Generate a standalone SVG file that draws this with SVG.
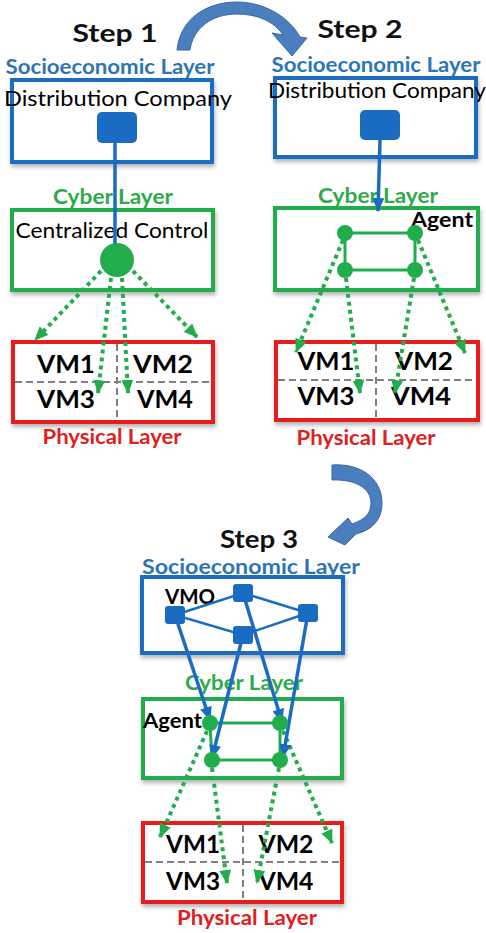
<svg xmlns="http://www.w3.org/2000/svg" width="486" height="933" viewBox="0 0 486 933">
<defs>
<filter id="sh" x="-10%" y="-10%" width="130%" height="140%"><feDropShadow dx="1" dy="3" stdDeviation="2" flood-color="#000" flood-opacity="0.3"/></filter>
<marker id="ga" markerUnits="userSpaceOnUse" markerWidth="14" markerHeight="12" refX="13" refY="6" orient="auto"><path d="M0,0 L14,6 L0,12 z" fill="#22ad4c"/></marker>
<marker id="ba" markerUnits="userSpaceOnUse" markerWidth="14" markerHeight="12" refX="13" refY="6" orient="auto"><path d="M0,0 L14,6 L0,12 z" fill="#1a6cc2"/></marker>
</defs>
<style>
text{font-family:Lato,"Liberation Sans",sans-serif;font-weight:bold}
.step{font-size:25px;fill:#111}
.soc{font-size:21px;fill:#2e75b6}
.cyb{font-size:21px;fill:#2eaa4a}
.phy{font-size:21px;fill:#e02020}
.lbl{font-size:21px;fill:#000;font-weight:normal}
.ag{font-size:20px;fill:#000}
.vm{font-size:25px;fill:#000}
.bbox{fill:#fff;stroke:#1a6cc2;stroke-width:4}
.gbox{fill:#fff;stroke:#22ad4c;stroke-width:4}
.rbox{fill:#fff;stroke:#e81c1c;stroke-width:4}
.grid{stroke:#808080;stroke-width:2;stroke-dasharray:7 4;fill:none}
.dot{stroke:#22ad4c;stroke-width:4;stroke-dasharray:4 4;fill:none;marker-end:url(#ga)}
.bl{stroke:#1a6cc2;stroke-width:3.5;fill:none}
.bar{stroke:#1a6cc2;stroke-width:3.5;fill:none;marker-end:url(#ba)}
.gl{stroke:#22ad4c;stroke-width:3;fill:none}
.curve{fill:#4a7ebf;stroke:#3a68a0;stroke-width:1}
</style>

<!-- Transition arrows -->
<g id="curve1"><path class="curve" d="M177,50 C180,20 205,2 237,2 C265,2 290,18 300,37 L307,38 L292,56 L272,33 L283,35 C275,22 258,14 237,14 C212,14 193,28 190,50 Z"/></g>
<g id="curve2"><path class="curve" d="M332,465 C360,463 382,478 382,503 C382,520 372,530 356,534 L345,545 L328,537 L348,518 L352,524 C364,520 371,514 371,503 C371,488 355,479 332,480 Z"/></g>

<!-- Step 1 -->
<g id="step1-title"><text class="step" x="115" y="42" text-anchor="middle" textLength="85" lengthAdjust="spacingAndGlyphs">Step 1</text></g>
<g id="step1-soc">
<text class="soc" x="110" y="74" text-anchor="middle" textLength="209" lengthAdjust="spacingAndGlyphs">Socioeconomic Layer</text>
<rect class="bbox" x="12" y="80" width="200" height="82" filter="url(#sh)"/>
<text class="lbl" x="118" y="106" text-anchor="middle" textLength="228" lengthAdjust="spacingAndGlyphs">Distribution Company</text>
<rect x="97" y="112" width="40" height="31" rx="5" fill="#1a6cc2"/>
</g>
<g id="step1-cyber">
<text class="cyb" x="113" y="204" text-anchor="middle" textLength="120" lengthAdjust="spacingAndGlyphs">Cyber Layer</text>
<rect class="gbox" x="12" y="210" width="201" height="80" filter="url(#sh)"/>
<text class="lbl" x="112" y="238" text-anchor="middle" textLength="193" lengthAdjust="spacingAndGlyphs">Centralized Control</text>
</g>
<g id="step1-phys">
<rect class="rbox" x="13" y="342" width="200" height="80" filter="url(#sh)"/>
<path class="grid" d="M117,344 V420 M15,382 H211"/>
<text class="vm" x="66" y="373" text-anchor="middle" textLength="58" lengthAdjust="spacingAndGlyphs">VM1</text>
<text class="vm" x="163" y="373" text-anchor="middle" textLength="60" lengthAdjust="spacingAndGlyphs">VM2</text>
<text class="vm" x="66" y="408" text-anchor="middle" textLength="58" lengthAdjust="spacingAndGlyphs">VM3</text>
<text class="vm" x="165" y="408" text-anchor="middle" textLength="56" lengthAdjust="spacingAndGlyphs">VM4</text>
<text class="phy" x="112" y="444" text-anchor="middle" textLength="139" lengthAdjust="spacingAndGlyphs">Physical Layer</text>
</g>
<g id="step1-connectors">
<path class="bl" d="M115,143 V258"/>
<path class="dot" d="M101,271 L35,340"/>
<path class="dot" d="M111,278 L98,393"/>
<path class="dot" d="M122,278 L128,393"/>
<path class="dot" d="M133,271 L197,337"/>
</g>
<g id="step1-control"><circle cx="117" cy="260" r="17" fill="#22ad4c"/></g>

<!-- Step 2 -->
<g id="step2-title"><text class="step" x="360" y="38" text-anchor="middle" textLength="85" lengthAdjust="spacingAndGlyphs">Step 2</text></g>
<g id="step2-soc">
<text class="soc" x="376" y="72" text-anchor="middle" textLength="209" lengthAdjust="spacingAndGlyphs">Socioeconomic Layer</text>
<rect class="bbox" x="275" y="78" width="201" height="79" filter="url(#sh)"/>
<text class="lbl" x="268" y="98" textLength="218" lengthAdjust="spacingAndGlyphs">Distribution Company</text>
<rect x="360" y="110" width="40" height="30" rx="5" fill="#1a6cc2"/>
</g>
<g id="step2-cyber">
<text class="cyb" x="378" y="203" text-anchor="middle" textLength="120" lengthAdjust="spacingAndGlyphs">Cyber Layer</text>
<rect class="gbox" x="275" y="208" width="203" height="82" filter="url(#sh)"/>
<text class="ag" x="473" y="227" text-anchor="end" textLength="62" lengthAdjust="spacingAndGlyphs">Agent</text>
</g>
<g id="step2-phys">
<rect class="rbox" x="276" y="342" width="202" height="78" filter="url(#sh)"/>
<path class="grid" d="M376,344 V418 M278,380 H476"/>
<text class="vm" x="326" y="370" text-anchor="middle" textLength="57" lengthAdjust="spacingAndGlyphs">VM1</text>
<text class="vm" x="424" y="370" text-anchor="middle" textLength="58" lengthAdjust="spacingAndGlyphs">VM2</text>
<text class="vm" x="326" y="405" text-anchor="middle" textLength="57" lengthAdjust="spacingAndGlyphs">VM3</text>
<text class="vm" x="421" y="405" text-anchor="middle" textLength="60" lengthAdjust="spacingAndGlyphs">VM4</text>
<text class="phy" x="366" y="445" text-anchor="middle" textLength="139" lengthAdjust="spacingAndGlyphs">Physical Layer</text>
</g>
<g id="step2-connectors">
<path class="bar" d="M380,140 L378,211"/>
<path class="gl" d="M345,233 H415 V270 H345 Z"/>
<path class="dot" d="M343,240 L296,352"/>
<path class="dot" d="M346,278 L360,393"/>
<path class="dot" d="M414,278 L395,393"/>
<path class="dot" d="M418,240 L465,353"/>
</g>
<g id="step2-agents">
<circle cx="345" cy="233" r="8" fill="#22ad4c"/>
<circle cx="415" cy="233" r="8" fill="#22ad4c"/>
<circle cx="345" cy="270" r="8" fill="#22ad4c"/>
<circle cx="415" cy="270" r="8" fill="#22ad4c"/>
</g>

<!-- Step 3 -->
<g id="step3-title"><text class="step" x="259" y="548" text-anchor="middle" textLength="78" lengthAdjust="spacingAndGlyphs">Step 3</text></g>
<g id="step3-soc">
<text class="soc" x="251" y="574" text-anchor="middle" textLength="218" lengthAdjust="spacingAndGlyphs">Socioeconomic Layer</text>
<rect class="bbox" x="142" y="577" width="201" height="76" filter="url(#sh)"/>
<text class="ag" x="165" y="604" textLength="50" lengthAdjust="spacingAndGlyphs">VMO</text>
</g>
<g id="step3-cyber">
<text class="cyb" x="244" y="690" text-anchor="middle" textLength="118" lengthAdjust="spacingAndGlyphs">Cyber Layer</text>
<rect class="gbox" x="143" y="699" width="199" height="79" filter="url(#sh)"/>
<text class="ag" x="143" y="728" textLength="59" lengthAdjust="spacingAndGlyphs">Agent</text>
</g>
<g id="step3-phys">
<rect class="rbox" x="143" y="823" width="199" height="79" filter="url(#sh)"/>
<path class="grid" d="M243,825 V900 M145,862 H340"/>
<text class="vm" x="193" y="853" text-anchor="middle" textLength="54" lengthAdjust="spacingAndGlyphs">VM1</text>
<text class="vm" x="286" y="853" text-anchor="middle" textLength="55" lengthAdjust="spacingAndGlyphs">VM2</text>
<text class="vm" x="193" y="890" text-anchor="middle" textLength="54" lengthAdjust="spacingAndGlyphs">VM3</text>
<text class="vm" x="286" y="890" text-anchor="middle" textLength="55" lengthAdjust="spacingAndGlyphs">VM4</text>
<text class="phy" x="247" y="925" text-anchor="middle" textLength="140" lengthAdjust="spacingAndGlyphs">Physical Layer</text>
</g>
<g id="step3-connectors">
<path class="gl" d="M210,723 H280 M212,760 H280 M210,723 L212,760 M280,723 V760"/>
<path class="bl" style="stroke-width:2.5" d="M175,615 L243,593 L308,613 L243,635 Z"/>
<path class="dot" d="M207,731 L160,837"/>
<path class="dot" d="M212,768 L227,883"/>
<path class="dot" d="M279,768 L257,883"/>
<path class="dot" d="M283,731 L332,843"/>
<path class="bar" d="M175,615 L210,720"/>
<path class="bar" d="M243,593 L282,722"/>
<path class="bar" d="M243,635 L212,758"/>
<path class="bar" d="M308,613 L283,757"/>
</g>
<g id="step3-vmo">
<rect x="165" y="606" width="20" height="18" rx="3" fill="#1a6cc2"/>
<rect x="233" y="584" width="20" height="18" rx="3" fill="#1a6cc2"/>
<rect x="298" y="604" width="20" height="18" rx="3" fill="#1a6cc2"/>
<rect x="233" y="626" width="20" height="18" rx="3" fill="#1a6cc2"/>
</g>
<g id="step3-agents">
<circle cx="210" cy="723" r="8" fill="#22ad4c"/>
<circle cx="280" cy="723" r="8" fill="#22ad4c"/>
<circle cx="212" cy="760" r="8" fill="#22ad4c"/>
<circle cx="280" cy="760" r="8" fill="#22ad4c"/>
</g>
</svg>
